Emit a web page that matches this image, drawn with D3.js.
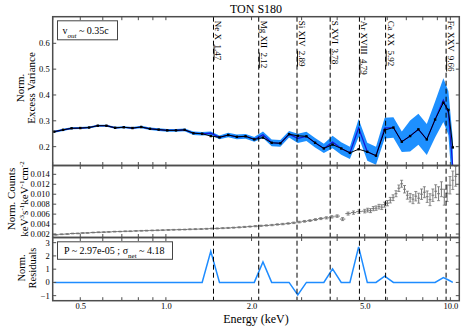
<!DOCTYPE html>
<html>
<head>
<meta charset="utf-8">
<script src="https://cdn.jsdelivr.net/npm/d3@7"></script>
<style>
body{margin:0;background:#fff;}
svg text{font-family:"Liberation Serif","Times New Roman",serif;fill:#000;}
</style>
</head>
<body>
<div id="chart"></div>
<script>
// ---- data ----
var energy = [0.405,0.435,0.466,0.500,0.537,0.576,0.618,0.663,0.711,0.763,0.819,0.879,0.943,1.011,1.085,1.164,
  1.249,1.341,1.438,1.543,1.656,1.776,1.906,2.045,2.194,2.354,2.526,2.710,2.908,3.119,3.346,3.591,3.853,4.134,
  4.435,4.759,5.105,5.478,5.877,6.306,6.750,7.220,7.720,8.263,8.838,9.449,9.840,10.20];
var excessVar = [0.258,0.265,0.271,0.272,0.274,0.281,0.281,0.273,0.275,0.272,0.276,0.269,0.266,0.263,0.263,0.265,
  0.252,0.250,0.241,0.236,0.245,0.238,0.240,0.228,0.235,0.215,0.213,0.248,0.242,0.240,0.215,0.193,0.208,0.193,
  0.176,0.190,0.180,0.165,0.264,0.274,0.219,0.241,0.267,0.228,0.305,0.370,0.342,0.197];
var modelVar = [0.258,0.265,0.271,0.272,0.274,0.281,0.281,0.273,0.275,0.272,0.276,0.269,0.266,0.263,0.263,0.265,
  0.252,0.250,0.252,0.236,0.245,0.238,0.240,0.228,0.246,0.215,0.213,0.248,0.232,0.240,0.215,0.193,0.218,0.193,
  0.176,0.272,0.180,0.165,0.272,0.274,0.219,0.241,0.267,0.228,0.305,0.380,0.330,0.120];
var modelErr = [0.004,0.004,0.004,0.004,0.004,0.004,0.004,0.004,0.004,0.004,0.005,0.005,0.005,0.005,0.005,0.005,
  0.007,0.007,0.007,0.007,0.009,0.009,0.009,0.009,0.013,0.013,0.013,0.013,0.018,0.018,0.018,0.018,0.024,0.024,
  0.024,0.035,0.035,0.035,0.040,0.040,0.040,0.060,0.060,0.060,0.070,0.085,0.085,0.110];
var residuals = [0,0,0,0,0,0,0,0,0,0,0,0,0,0,0,0,0,0,2.35,0,0,0,0,0,1.55,0,0,0,-0.95,0,0,0,1.02,0,
  0,2.68,0,0,0.48,0,0,0,0,0,0,0.36,0.18,0];

var countE = [0.41,0.43,0.45,0.47,0.49,0.51,0.53,0.555,0.58,0.605,0.63,0.66,0.69,0.72,0.75,0.785,0.82,0.855,0.895,
  0.935,0.975,1.02,1.065,1.115,1.165,1.215,1.27,1.33,1.39,1.45,1.515,1.585,1.655,1.73,1.81,1.89,1.975,2.065,2.16,
  2.255,2.36,2.465,2.575,2.69,2.815,2.94,3.07,3.21,3.355,3.505,3.665,3.83,4.0,4.18,4.37,4.565,4.77,
  5.00,5.12,5.24,5.36,5.48,5.61,5.74,5.87,6.01,6.15,6.29,6.44,6.59,6.74,6.90,7.06,7.22,7.39,7.56,7.74,7.92,
  8.10,8.29,8.48,8.68,8.88,9.09,9.30,9.52,9.74,9.97,10.20,10.44];
var counts = [0.00185,0.00195,0.00200,0.00210,0.00212,0.00220,0.00222,0.00230,0.00235,0.00238,0.00242,0.00248,
  0.00250,0.00255,0.00256,0.00262,0.00265,0.00268,0.00272,0.00275,0.00278,0.00282,0.00285,0.00288,0.00290,
  0.00295,0.00298,0.00300,0.00305,0.00310,0.00312,0.00318,0.00322,0.00328,0.00335,0.00342,0.00350,0.00358,
  0.00365,0.00372,0.00380,0.00392,0.00400,0.00412,0.00425,0.00440,0.00455,0.00470,0.00490,0.00510,0.00525,
  0.00545,0.00560,0.00500,0.00610,0.00630,0.00650,
  0.00660,0.00680,0.00670,0.00710,0.00720,0.00750,0.00740,0.00790,0.00820,0.00880,0.00930,0.01010,0.01120,
  0.01210,0.01100,0.00980,0.00930,0.00900,0.00960,0.00920,0.01000,0.01040,0.00950,0.00890,0.00980,0.01060,
  0.01010,0.01100,0.00940,0.01020,0.01180,0.01280,0.01360];
var countErr = [0.00007,0.00007,0.00007,0.00007,0.00007,0.00007,0.00007,0.00007,0.00007,0.00007,0.00007,0.00007,
  0.00007,0.00007,0.00007,0.00007,0.00007,0.00008,0.00008,0.00008,0.00008,0.00008,0.00008,0.00008,0.00008,
  0.00009,0.00009,0.00009,0.00009,0.00010,0.00010,0.00010,0.00010,0.00010,0.00011,0.00011,0.00011,0.00012,
  0.00012,0.00012,0.00013,0.00013,0.00014,0.00014,0.00015,0.00016,0.00017,0.00018,0.00019,0.00020,0.00022,
  0.00024,0.00025,0.00030,0.00030,0.00033,0.00036,
  0.00036,0.00038,0.00040,0.00042,0.00044,0.00046,0.00048,0.00050,0.00053,0.00056,0.00058,0.00060,0.00065,
  0.00070,0.00075,0.00080,0.00085,0.00090,0.00095,0.00100,0.00105,0.00110,0.00115,0.00120,0.00125,0.00130,
  0.00140,0.00150,0.00160,0.00165,0.00175,0.00185,0.00200];

var lineNames = ["Ne X","Mg XII","Si XIV","S XVI","Ar XVIII","Ca XX","Fe XXV"];
var lineEnergies = [1.47,2.12,2.89,3.78,4.79,5.92,9.66];
var xTickValues = [0.5,1.0,2.0,5.0,10.0];
var xMinorTicks = [0.4,0.6,0.7,0.8,0.9,3,4,6,7,8,9];

// ---- layout ----
var w = 463, h = 331;
var left = 52.7, right = 459.3;
var pTop = [16.7,165.5], pMid = [165.5,237.5], pBot = [237.5,300.7];
var frameColor = "#4d4d4d";

var svg = d3.select("#chart").append("svg")
  .attr("width", w).attr("height", h);

var x = d3.scaleLog().domain([0.4,10.75]).range([left,right]);
var yTop = d3.scaleLinear().domain([0.127,0.703]).range([pTop[1],pTop[0]]);
var yMid = d3.scaleLinear().domain([0.0013,0.01577]).range([pMid[1],pMid[0]]);
var yBot = d3.scaleLinear().domain([-1.38,3.39]).range([pBot[1],pBot[0]]);

var defs = svg.append("defs");
[["clipTop",pTop],["clipMid",pMid],["clipBot",pBot]].forEach(function(c){
  defs.append("clipPath").attr("id",c[0]).append("rect")
    .attr("x",left).attr("y",c[1][0]).attr("width",right-left).attr("height",c[1][1]-c[1][0]);
});

// ---- top panel: excess variance ----
var gTop = svg.append("g").attr("clip-path","url(#clipTop)");
var band = d3.area()
  .x(function(d,i){ return x(energy[i]); })
  .y0(function(d,i){ return yTop(modelVar[i]-modelErr[i]); })
  .y1(function(d,i){ return yTop(modelVar[i]+modelErr[i]); });
gTop.append("path").datum(energy).attr("d",band).attr("fill","#1e90ff");
gTop.append("path").datum(energy)
  .attr("d", d3.line().x(function(d,i){return x(energy[i]);}).y(function(d,i){return yTop(modelVar[i]);}))
  .attr("fill","none").attr("stroke","#1515d8").attr("stroke-width",1.2);
gTop.append("path").datum(energy)
  .attr("d", d3.line().x(function(d,i){return x(energy[i]);}).y(function(d,i){return yTop(excessVar[i]);}))
  .attr("fill","none").attr("stroke","#000").attr("stroke-width",1);
gTop.selectAll(".pt").data(energy).enter().append("rect")
  .attr("x",function(d){return x(d)-1.2;})
  .attr("y",function(d,i){return yTop(excessVar[i])-1.2;})
  .attr("width",2.4).attr("height",2.4).attr("fill","#000");

// ---- middle panel: counts with error bars ----
var gMid = svg.append("g").attr("clip-path","url(#clipMid)");
var errColor = "#747474";
countE.forEach(function(e,i){
  var lo = i>0 ? Math.sqrt(countE[i-1]*e) : e*e/Math.sqrt(e*countE[i+1]);
  var hi = i<countE.length-1 ? Math.sqrt(countE[i+1]*e) : e*e/Math.sqrt(e*countE[i-1]);
  var cx = x(e), cy = yMid(counts[i]);
  var y1 = yMid(counts[i]+countErr[i]), y2 = yMid(counts[i]-countErr[i]);
  gMid.append("line").attr("x1",x(lo)).attr("x2",x(hi)).attr("y1",cy).attr("y2",cy)
    .attr("stroke",errColor).attr("stroke-width",1);
  gMid.append("line").attr("x1",cx).attr("x2",cx).attr("y1",y1).attr("y2",y2)
    .attr("stroke",errColor).attr("stroke-width",1);
  [y1,y2].forEach(function(yy){
    gMid.append("line").attr("x1",cx-1.5).attr("x2",cx+1.5).attr("y1",yy).attr("y2",yy)
      .attr("stroke",errColor).attr("stroke-width",0.8);
  });
});

// ---- bottom panel: residuals ----
var gBot = svg.append("g").attr("clip-path","url(#clipBot)");
gBot.append("path").datum(energy)
  .attr("d", d3.line().x(function(d,i){return x(energy[i]);}).y(function(d,i){return yBot(residuals[i]);}))
  .attr("fill","none").attr("stroke","#1e8cff").attr("stroke-width",1.5);

// ---- dashed line markers ----
lineEnergies.forEach(function(e,i){
  var lx = x(e);
  svg.append("line").attr("x1",lx).attr("x2",lx).attr("y1",pTop[0]).attr("y2",pBot[1])
    .attr("stroke","#000").attr("stroke-width",1).attr("stroke-dasharray","5,3");
  var t = svg.append("text")
    .attr("transform","translate(" + (lx+2) + "," + (pTop[0]+4) + ") rotate(90)")
    .style("font-size","9px").style("white-space","pre");
  t.append("tspan").text(lineNames[i] + "  ");
  t.append("tspan").style("text-decoration","underline").text(lineEnergies[i].toFixed(2));
});

// ---- frames and ticks ----
function frame(p, yScale, yTicks, fmt){
  var top = p[0], bot = p[1];
  var ticks = xTickValues.concat(xMinorTicks);
  ticks.forEach(function(t){
    var tx = x(t);
    svg.append("line").attr("x1",tx).attr("x2",tx).attr("y1",top).attr("y2",top+3.5)
      .attr("stroke",frameColor).attr("stroke-width",1);
    svg.append("line").attr("x1",tx).attr("x2",tx).attr("y1",bot).attr("y2",bot-3.5)
      .attr("stroke",frameColor).attr("stroke-width",1);
  });
  yTicks.forEach(function(t){
    var ty = yScale(t);
    svg.append("line").attr("x1",left).attr("x2",left+3.5).attr("y1",ty).attr("y2",ty)
      .attr("stroke",frameColor).attr("stroke-width",1);
    svg.append("line").attr("x1",right).attr("x2",right-3.5).attr("y1",ty).attr("y2",ty)
      .attr("stroke",frameColor).attr("stroke-width",1);
    svg.append("text").attr("x",left-3).attr("y",ty+3).attr("text-anchor","end")
      .style("font-size","8.5px").text(fmt(t));
  });
  svg.append("rect").attr("x",left).attr("y",top).attr("width",right-left).attr("height",bot-top)
    .attr("fill","none").attr("stroke",frameColor).attr("stroke-width",1.5);
}
frame(pTop, yTop, [0.2,0.3,0.4,0.5,0.6], d3.format(".1f"));
frame(pMid, yMid, [0.002,0.004,0.006,0.008,0.010,0.012,0.014], d3.format(".3f"));
frame(pBot, yBot, [-1,0,1,2,3], function(d){ return d < 0 ? "\u2212" + Math.abs(d) : d; });

// x tick labels
var xAxis = d3.axisBottom(x).tickValues(xTickValues).tickSize(0).tickPadding(0).tickFormat(d3.format(".1f"));
var gx = svg.append("g").attr("transform","translate(0,308.5)").call(xAxis);
gx.select(".domain").remove();
gx.selectAll("text").attr("dy",0).attr("y",0).style("font-size","8.5px")
  .style("font-family","'Liberation Serif','Times New Roman',serif");

// ---- text ----
svg.append("text").attr("x",(left+right)/2).attr("y",13).attr("text-anchor","middle")
  .style("font-size","12px").text("TON S180");
svg.append("text").attr("x",(left+right)/2).attr("y",323).attr("text-anchor","middle")
  .style("font-size","12px").text("Energy (keV)");

function yLabel(lines, cy, size){
  lines.forEach(function(l){
    var t = svg.append("text")
      .attr("transform","translate(" + l.x + "," + cy + ") rotate(-90)")
      .attr("text-anchor","middle").style("font-size",size);
    l.parts.forEach(function(p){
      var s = t.append("tspan").text(p[0]);
      if(p[1]) s.attr("baseline-shift",p[1]).style("font-size","7px");
    });
  });
}
yLabel([{x:24,parts:[["Norm."]]},{x:35,parts:[["Excess Variance"]]}], 88, "11px");
yLabel([{x:15,parts:[["Norm. Counts"]]},
        {x:28,parts:[["keV"],["3","super"],["s"],["-1","super"],["keV"],["-1","super"],["cm"],["-2","super"]]}],
       199, "11px");
yLabel([{x:25,parts:[["Norm."]]},{x:36,parts:[["Residuals"]]}], 268, "10.5px");

// boxes
var b1 = svg.append("g");
b1.append("rect").attr("x",57.5).attr("y",20.8).attr("width",60).attr("height",19)
  .attr("fill","#fff").attr("stroke","#444").attr("stroke-width",1);
var t1 = b1.append("text").attr("x",62.5).attr("y",34).style("font-size","10px");
t1.append("tspan").text("v");
t1.append("tspan").attr("baseline-shift","sub").style("font-size","7px").style("font-style","italic").text("out");
t1.append("tspan").text(" ~ 0.35c");

var b2 = svg.append("g");
b2.append("rect").attr("x",57.5).attr("y",241.8).attr("width",115).attr("height",17.5)
  .attr("fill","#fff").attr("stroke","#444").attr("stroke-width",1);
var t2 = b2.append("text").attr("x",64).attr("y",254).style("font-size","10px");
t2.append("tspan").text("P ~ 2.97e-05 ; \u03c3");
t2.append("tspan").attr("baseline-shift","sub").style("font-size","7px").text("net");
t2.append("tspan").text(" ~ 4.18");
</script>
</body>
</html>
